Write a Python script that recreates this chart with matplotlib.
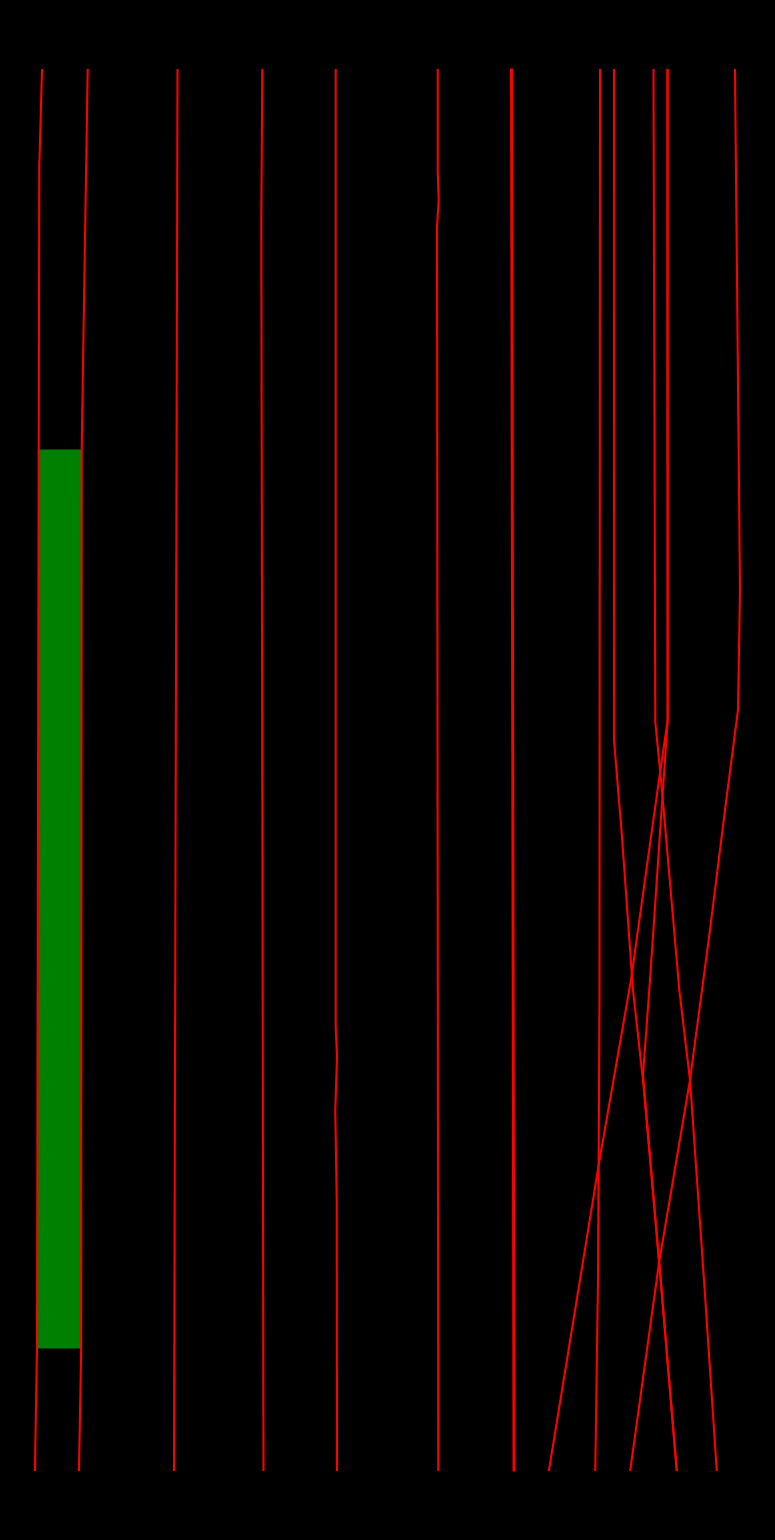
import numpy as np
import matplotlib
matplotlib.use("Agg")
import matplotlib.pyplot as plt

# ── data: each trace is (depth, position) ────────────────────────────────────
DEPTH_TOP, DEPTH_BOTTOM = 70, 1470

t1_depth = [70, 167, 449, 1348, 1447, 1470]
t1_pos   = [42.0, 39.3, 38.7, 37.0, 35.3, 35.0]
t2_depth = [70, 220, 449, 1348, 1470]
t2_pos   = [87.7, 85.3, 81.7, 81.2, 79.0]
t3_depth = [70, 1470]
t3_pos   = [177.5, 174.0]
t4_depth = [70, 220, 1470]
t4_pos   = [262.3, 261.3, 263.5]
t5_depth = [70, 1027, 1057, 1110, 1200, 1470]
t5_pos   = [335.7, 335.7, 337.0, 335.3, 336.7, 337.0]
t6_depth = [70, 170, 200, 227, 1470]
t6_pos   = [437.7, 437.7, 438.7, 437.0, 438.3]
t7_depth = [70, 1470]
t7_pos   = [511.5, 514.0]
t8_depth = [70, 1000, 1280, 1470]
t8_pos   = [600.0, 599.5, 598.0, 595.3]
t9_depth = [70, 740, 833, 990, 1080, 1280, 1470]
t9_pos   = [614.0, 614.0, 621.7, 633.0, 643.0, 660.7, 676.7]
t10_depth = [70, 722, 787, 990, 1080, 1280, 1470]
t10_pos   = [653.5, 655.3, 661.7, 679.3, 690.0, 704.0, 716.7]
t11_depth = [70, 720, 787, 980, 1163, 1280, 1470]
t11_pos   = [667.5, 667.7, 658.0, 631.0, 599.0, 580.0, 549.0]
t12_depth = [70, 720, 980, 1075, 1280, 1470]
t12_pos   = [667.5, 667.7, 650.0, 643.0, 660.7, 676.7]
t13_depth = [70, 590, 710, 810, 930, 1080, 1263, 1470]
t13_pos   = [735.0, 740.0, 738.0, 725.0, 710.0, 690.0, 659.0, 630.3]

# shaded interval between traces 1 and 2
band_top, band_bottom = 449, 1348

traces = [
    (t1_depth, t1_pos), (t2_depth, t2_pos), (t3_depth, t3_pos),
    (t4_depth, t4_pos), (t5_depth, t5_pos), (t6_depth, t6_pos),
    (t7_depth, t7_pos), (t8_depth, t8_pos), (t9_depth, t9_pos),
    (t10_depth, t10_pos), (t11_depth, t11_pos), (t12_depth, t12_pos),
    (t13_depth, t13_pos),
]

# ── plot ─────────────────────────────────────────────────────────────────────
fig = plt.figure(figsize=(7.75, 15.4), dpi=100, facecolor="black")
ax = fig.add_axes([0, 0, 1, 1], facecolor="black")
ax.set_xlim(0, 775)
ax.set_ylim(1540, 0)
ax.axis("off")

# green band, bounded by the two left traces
yy = np.unique(np.concatenate([[band_top, band_bottom],
                               [d for d in t1_depth + t2_depth if band_top < d < band_bottom]]))
x_left  = np.interp(yy, t1_depth, t1_pos)
x_right = np.interp(yy, t2_depth, t2_pos)
ax.fill_betweenx(yy, x_left, x_right, color="#008000", lw=0, zorder=1)

for i, (d, p) in enumerate(traces):
    lw = 2.1 if i == 6 else 1.5
    ax.plot(p, d, color="#ff0000", lw=lw, solid_joinstyle="round", zorder=2)

fig.savefig("out.png", dpi=100, facecolor="black")
plt.close(fig)
